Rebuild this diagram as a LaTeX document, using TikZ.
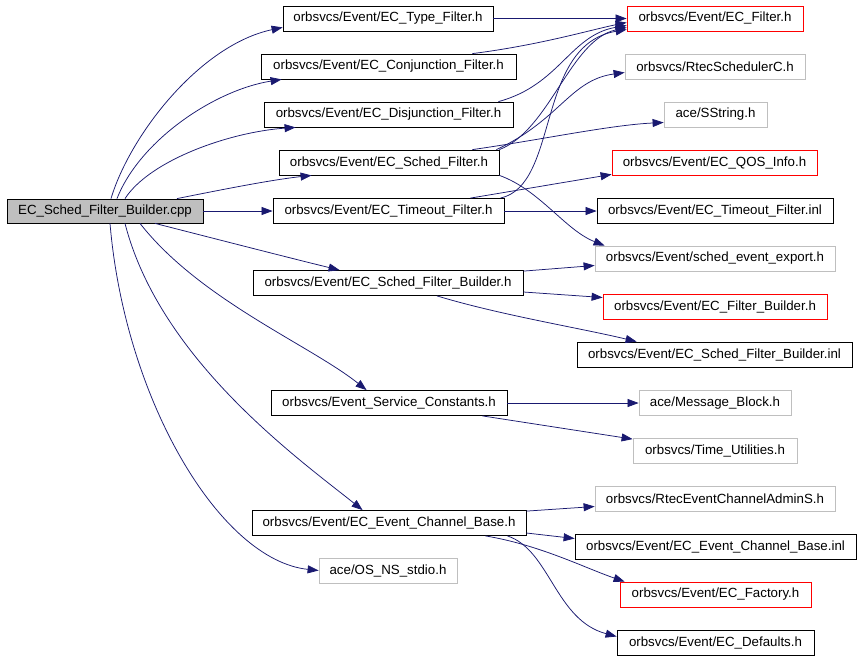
\documentclass[tikz,border=0pt]{standalone}
\usepackage{fontspec}
\setmainfont{Liberation Sans}
\usetikzlibrary{arrows.meta,calc}
\definecolor{edgeblue}{HTML}{191970}
\definecolor{grayborder}{HTML}{BFBFBF}
\tikzset{
  box/.style={draw=black, line width=0.8pt, minimum height=25pt, inner sep=0pt, font=\fontsize{13.3}{15}\selectfont},
  redbox/.style={box, draw=red},
  graybox/.style={box, draw=grayborder},
  rootbox/.style={box, fill=grayborder, minimum height=24pt},
  edge/.style={draw=edgeblue, line width=0.75pt, -{Triangle[length=11pt,width=8pt]}}
}
\begin{document}
\begin{tikzpicture}[x=1pt,y=-1pt]
\useasboundingbox[fill=white] (0,0) rectangle (861,659);
% nodes
\node[rootbox, minimum width=196pt] (cpp) at (105,211) {EC\_Sched\_Filter\_Builder.cpp};
\node[box, minimum width=210pt] (type) at (388,18.5) {orbsvcs/Event/EC\_Type\_Filter.h};
\node[box, minimum width=255pt] (conj) at (388.5,66.5) {orbsvcs/Event/EC\_Conjunction\_Filter.h};
\node[box, minimum width=249pt] (disj) at (388.5,114.5) {orbsvcs/Event/EC\_Disjunction\_Filter.h};
\node[box, minimum width=220pt] (sfilt) at (389,162.5) {orbsvcs/Event/EC\_Sched\_Filter.h};
\node[box, minimum width=231pt] (tout) at (388.5,211) {orbsvcs/Event/EC\_Timeout\_Filter.h};
\node[redbox, minimum width=176pt] (ecf) at (715,18.5) {orbsvcs/Event/EC\_Filter.h};
\node[graybox, minimum width=180pt] (rtecs) at (715,66.5) {orbsvcs/RtecSchedulerC.h};
\node[graybox, minimum width=103pt] (sstr) at (715.5,114.5) {ace/SString.h};
\node[redbox, minimum width=205pt] (qos) at (714.5,162.5) {orbsvcs/Event/EC\_QOS\_Info.h};
\node[box, minimum width=236pt] (tinl) at (715,211) {orbsvcs/Event/EC\_Timeout\_Filter.inl};
\node[box, minimum width=270pt] (sfb) at (388,283) {orbsvcs/Event/EC\_Sched\_Filter\_Builder.h};
\node[graybox, minimum width=240pt] (see) at (715,258.5) {orbsvcs/Event/sched\_event\_export.h};
\node[redbox, minimum width=224pt] (fb) at (715,306.5) {orbsvcs/Event/EC\_Filter\_Builder.h};
\node[box, minimum width=275pt] (sfbinl) at (714.5,354.5) {orbsvcs/Event/EC\_Sched\_Filter\_Builder.inl};
\node[box, minimum width=236pt] (esc) at (389,403) {orbsvcs/Event\_Service\_Constants.h};
\node[graybox, minimum width=152pt] (mb) at (715,403) {ace/Message\_Block.h};
\node[graybox, minimum width=164pt] (tu) at (715,451) {orbsvcs/Time\_Utilities.h};
\node[box, minimum width=274pt] (ecb) at (389,523) {orbsvcs/Event/EC\_Event\_Channel\_Base.h};
\node[graybox, minimum width=138pt] (osns) at (388,570.5) {ace/OS\_NS\_stdio.h};
\node[graybox, minimum width=240pt] (rtecea) at (715,498.5) {orbsvcs/RtecEventChannelAdminS.h};
\node[box, minimum width=281pt] (ecbinl) at (715.5,546.5) {orbsvcs/Event/EC\_Event\_Channel\_Base.inl};
\node[redbox, minimum width=191pt] (fac) at (715.5,594.5) {orbsvcs/Event/EC\_Factory.h};
\node[box, minimum width=197pt] (def) at (715.5,642.5) {orbsvcs/Event/EC\_Defaults.h};
% edges from cpp
\draw[edge] ($(cpp.north)+(6,0)$) .. controls (130,135) and (200,45) .. ($(type.south west)+(0,-4)$);
\draw[edge] ($(cpp.north)+(12,0)$) .. controls (140,140) and (215,90) .. ($(conj.south west)+(21,0)$);
\draw[edge] ($(cpp.north)+(20,0)$) .. controls (150,160) and (230,132) .. ($(disj.south west)+(32,0)$);
\draw[edge] ($(cpp.north)+(72,0)$) .. controls (220,190) and (270,180) .. ($(sfilt.south west)+(33,0)$);
\draw[edge] (cpp.east) -- (tout.west);
\draw[edge] ($(cpp.south)+(50,0)$) .. controls (220,240) and (290,258) .. ($(sfb.north west)+(87,0)$);
\draw[edge] ($(cpp.south)+(35,0)$) .. controls (200,300) and (310,345) .. ($(esc.north west)+(96,0)$);
\draw[edge] ($(cpp.south)+(20,0)$) .. controls (160,360) and (300,460) .. ($(ecb.north west)+(111,0)$);
\draw[edge] ($(cpp.south)+(5,0)$) .. controls (125,400) and (220,560) .. (osns.west);
% edges to EC_Filter.h
\draw[edge] (type.east) -- (ecf.west);
\draw[edge] ($(conj.north east)+(-44,0)$) .. controls (540,45) and (590,30) .. ($(ecf.west)+(0,4)$);
\draw[edge] ($(disj.north east)+(-15,0)$) .. controls (560,85) and (570,35) .. ($(ecf.west)+(0,7)$);
\draw[edge] (sfilt.north east) .. controls (550,130) and (570,40) .. ($(ecf.west)+(0,9)$);
\draw[edge] ($(tout.north east)+(-4,0)$) .. controls (560,185) and (535,45) .. ($(ecf.west)+(0,11)$);
% sched filter
\draw[edge] ($(sfilt.north east)+(-3,0)$) .. controls (560,120) and (570,80) .. ($(rtecs.west)+(0,6)$);
\draw[edge] ($(sfilt.north east)+(-27,0)$) .. controls (540,140) and (610,125) .. ($(sstr.west)+(0,8)$);
\draw[edge] (sfilt.south east) .. controls (540,190) and (565,230) .. ($(see.north west)+(10,0)$);
% timeout filter
\draw[edge] ($(tout.north east)+(-34,0)$) -- ($(qos.south west)+(0,-1)$);
\draw[edge] (tout.east) -- (tinl.west);
% sched filter builder
\draw[edge] ($(sfb.north east)+(0,1)$) -- ($(see.west)+(0,7)$);
\draw[edge] ($(sfb.east)+(0,9)$) -- ($(fb.west)+(0,-9)$);
\draw[edge] ($(sfb.south)+(49,0)$) .. controls (500,315) and (580,328) .. ($(sfbinl.north west)+(60,0)$);
% service constants
\draw[edge] (esc.east) -- (mb.west);
\draw[edge] ($(esc.south east)+(-25,0)$) -- ($(tu.north west)+(0,1)$);
% event channel base
\draw[edge] ($(ecb.north east)+(0,1)$) -- ($(rtecea.west)+(0,8)$);
\draw[edge] ($(ecb.east)+(0,10)$) -- ($(ecbinl.west)+(0,-8)$);
\draw[edge] ($(ecb.south east)+(-41,0)$) .. controls (540,545) and (585,568) .. ($(fac.north west)+(5,0)$);
\draw[edge] ($(ecb.south east)+(-19,0)$) .. controls (550,550) and (555,620) .. ($(def.west)+(0,-6)$);
\end{tikzpicture}
\end{document}
